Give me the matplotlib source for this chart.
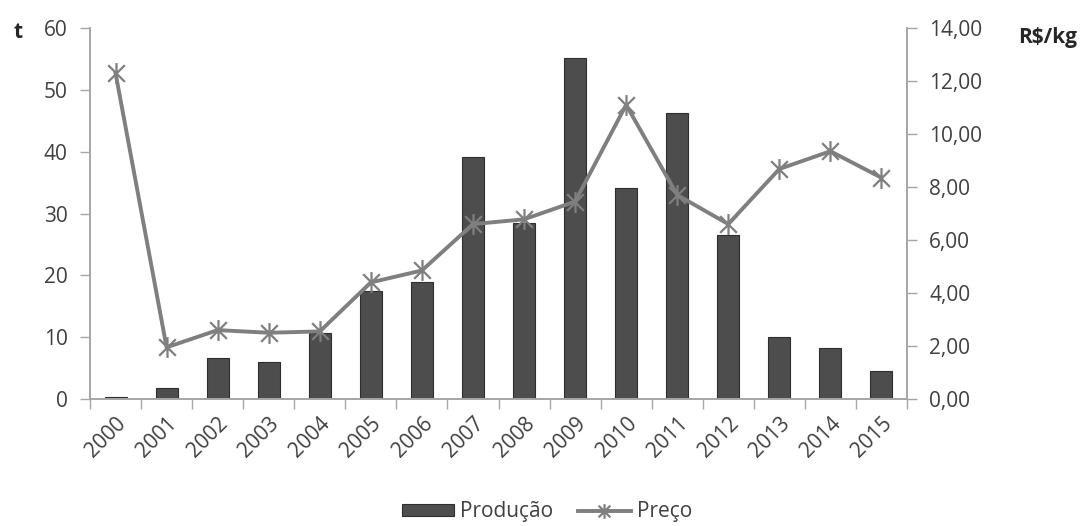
import matplotlib
matplotlib.use("Agg")
import matplotlib.pyplot as plt
import numpy as np
from matplotlib.path import Path
from matplotlib.ticker import FuncFormatter, FixedLocator

years = ["2000", "2001", "2002", "2003", "2004", "2005", "2006", "2007",
         "2008", "2009", "2010", "2011", "2012", "2013", "2014", "2015"]
producao = [0.3, 1.8, 6.6, 6.0, 10.7, 17.5, 19.0, 39.2, 28.4, 55.2, 34.2, 46.3, 26.5, 10.0, 8.2, 4.5]
preco = [12.3, 1.95, 2.6, 2.5, 2.55, 4.4, 4.85, 6.6, 6.78, 7.45, 11.1, 7.7, 6.6, 8.68, 9.35, 8.35]

plt.rcParams['font.family'] = ['Open Sans', 'DejaVu Sans']
gray_axis = "#a6a6a6"
text_col = "#404040"
FS = 15

fig = plt.figure(figsize=(10.89, 5.26), dpi=100)
ax = fig.add_axes([90/1089, 1-399/526, (907-90)/1089, (399-28)/526])
x = np.arange(len(years))
ax.bar(x, producao, width=0.43, color="#4d4d4d", edgecolor="#2e2e2e", linewidth=0.8, zorder=2, label="Produção")
ax.set_xlim(-0.5, len(years)-0.5)
ax.set_ylim(0, 60)
ax.set_yticks(range(0, 61, 10))

ax2 = ax.twinx()
star = Path([(0, -1), (0, 1), (-0.8, -0.8), (0.8, 0.8), (-0.8, 0.8), (0.8, -0.8)],
            [Path.MOVETO, Path.LINETO, Path.MOVETO, Path.LINETO, Path.MOVETO, Path.LINETO])
ax2.plot(x, preco, color="#7f7f7f", linewidth=2.8, marker=star, markersize=15,
         markeredgewidth=1.6, markeredgecolor="#7f7f7f", zorder=3, label="Preço")
ax2.set_ylim(0, 14)
ax2.set_yticks(range(0, 15, 2))
ax2.yaxis.set_major_formatter(FuncFormatter(lambda v, p: f"{v:.2f}".replace(".", ",")))

for a in (ax, ax2):
    for s in a.spines.values():
        s.set_color(gray_axis)
        s.set_linewidth(1.2)
    a.spines['top'].set_visible(False)
    a.tick_params(axis='y', colors=gray_axis, labelcolor=text_col, labelsize=FS, length=7, width=1.0, pad=9)

ax.set_zorder(1)
ax2.set_zorder(2)
ax.patch.set_visible(False)

ax.set_xticks(x)
ax.set_xticklabels(years, rotation=45, ha='right', rotation_mode='anchor', fontsize=FS, color=text_col)
ax.tick_params(axis='x', length=0, pad=10)
ax.xaxis.set_minor_locator(FixedLocator(np.arange(-0.5, len(years), 1.0)))
ax.tick_params(axis='x', which='minor', length=7, color=gray_axis, width=1.0)

fig.text(13/1089, 1-32/526, "t", fontsize=FS, fontweight='bold', color="#262626", va='center', ha='left')
fig.text(1018/1089, 1-38/526, "R$/kg", fontsize=FS, fontweight='bold', color="#262626", va='center', ha='left')

h1, l1 = ax.get_legend_handles_labels()
h2, l2 = ax2.get_legend_handles_labels()
fig.legend(h1 + h2, l1 + l2, loc='center', bbox_to_anchor=(547/1089, 1-512/526), ncol=2,
           frameon=False, fontsize=FS, handlelength=2.5, handleheight=0.45, columnspacing=1.2,
           handletextpad=0.3, markerscale=0.7, labelcolor=text_col)

fig.savefig("out.png", dpi=100)
